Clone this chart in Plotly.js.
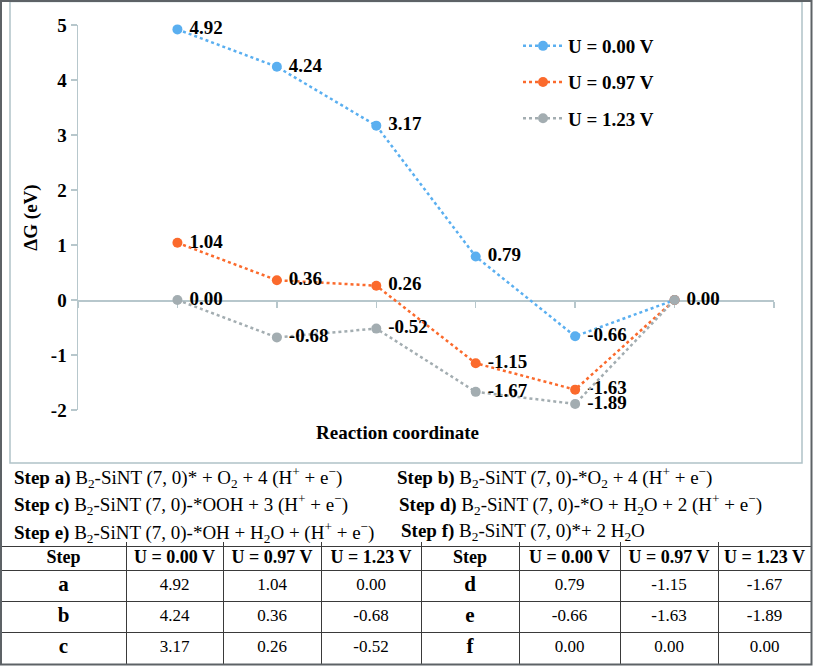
<!DOCTYPE html>
<html>
<head>
<meta charset="utf-8">
<script src="https://cdn.plot.ly/plotly-3.0.1.min.js"></script>
<style>html,body{margin:0;padding:0;background:#fff;}#chart{width:813px;height:666px;}</style>
</head>
<body>
<div id="chart"></div>
<script>
// ---- data ----
const steps = ['a', 'b', 'c', 'd', 'e', 'f'];
const u000 = [4.92, 4.24, 3.17, 0.79, -0.66, 0.00];
const u097 = [1.04, 0.36, 0.26, -1.15, -1.63, 0.00];
const u123 = [0.00, -0.68, -0.52, -1.67, -1.89, 0.00];
const seriesNames = ['U = 0.00 V', 'U = 0.97 V', 'U = 1.23 V'];
const yTickVals = [-2, -1, 0, 1, 2, 3, 4, 5];
const yTickText = ['-2', '-1', '0', '1', '2', '3', '4', '5'];
const xTickVals = [0, 1, 2, 3, 4, 5, 6, 7];
const stepLabels = ['a', 'b', 'c', 'd', 'e', 'f'];
const stepEquations = [
  'B<sub>2</sub>-SiNT (7, 0)* + O<sub>2</sub> + 4 (H<sup>+</sup> + e<sup>\u2212</sup>)',
  'B<sub>2</sub>-SiNT (7, 0)-*O<sub>2</sub> + 4 (H<sup>+</sup> + e<sup>\u2212</sup>)',
  'B<sub>2</sub>-SiNT (7, 0)-*OOH + 3 (H<sup>+</sup> + e<sup>\u2212</sup>)',
  'B<sub>2</sub>-SiNT (7, 0)-*O + H<sub>2</sub>O + 2 (H<sup>+</sup> + e<sup>\u2212</sup>)',
  'B<sub>2</sub>-SiNT (7, 0)-*OH + H<sub>2</sub>O + (H<sup>+</sup> + e<sup>\u2212</sup>)',
  'B<sub>2</sub>-SiNT (7, 0)*+ 2 H<sub>2</sub>O'
];
const tableHeader = ['Step', 'U = 0.00 V', 'U = 0.97 V', 'U = 1.23 V'];
const tableColumnWidths = [125, 97, 98, 100, 98, 101, 98, 93];
const tableRowHeights = [24, 31, 31, 32];

// ---- layout helpers ----
const W = 813, H = 666;
const px = v => v / W;
const py = v => 1 - v / H;
const SERIF = 'Liberation Serif, Times New Roman, serif';
const colors = ['#5aaff0', '#fb6a2c', '#a3adb1'];
const axisColor = '#b7c7cc';

const xs = steps.map((_, i) => i + 1);
const fmt = v => v.toFixed(2);

const series = [u000, u097, u123];
// a label is left out where a later-drawn series has the same value at that step
const labelsFor = k => series[k].map((v, i) =>
  series.slice(k + 1).some(s => s[i] === v) ? '' : '\u00a0' + fmt(v));

const traces = series.map((ys, k) => ({
  type: 'scatter',
  mode: 'lines+markers+text',
  x: xs, y: ys,
  name: seriesNames[k],
  legendgroup: 'g' + k,
  text: labelsFor(k),
  textposition: 'middle right',
  textfont: {family: SERIF, size: 19, color: '#000', weight: 'bold'},
  cliponaxis: false,
  line: {color: colors[k], width: 2.5, dash: 'dot'},
  marker: {color: colors[k], size: 10},
  xaxis: 'x', yaxis: 'y',
  hoverinfo: 'skip'
}));

const yRange = [-2, 5];
const yDomain = [py(410), py(25)];
const xAxisPos = yDomain[0] + (0 - yRange[0]) / (yRange[1] - yRange[0]) * (yDomain[1] - yDomain[0]);

// ---- table drawn on its own axes (x2/y2 in cell units) ----
const cum = a => a.reduce((acc, v) => (acc.push(acc[acc.length - 1] + v), acc), [0]);
const colEdges = cum(tableColumnWidths);
const rowEdges = cum(tableRowHeights);
const colMid = tableColumnWidths.map((w, i) => colEdges[i] + w / 2);
const rowMid = tableRowHeights.map((h, i) => rowEdges[i] + h / 2);
const half = 3;
const tableBlocks = [0, 1].map(b => ({
  steps: stepLabels.slice(b * half, b * half + half),
  cols: series.map(s => s.slice(b * half, b * half + half).map(fmt))
}));
const hdrX = [], hdrY = [], hdrT = [];
const stX = [], stY = [], stT = [];
const vX = [], vY = [], vT = [];
tableBlocks.forEach((blk, b) => {
  tableHeader.forEach((h, c) => { hdrX.push(colMid[b * 4 + c]); hdrY.push(rowMid[0]); hdrT.push(h); });
  blk.steps.forEach((s, r) => { stX.push(colMid[b * 4]); stY.push(rowMid[r + 1]); stT.push(s); });
  blk.cols.forEach((col, c) => col.forEach((v, r) => {
    vX.push(colMid[b * 4 + c + 1]); vY.push(rowMid[r + 1]); vT.push(v);
  }));
});
const tableText = (x, y, t, size, weight) => ({
  type: 'scatter', mode: 'text', x: x, y: y, text: t,
  textposition: 'middle center',
  textfont: {family: SERIF, size: size, color: '#000', weight: weight},
  xaxis: 'x2', yaxis: 'y2', showlegend: false, hoverinfo: 'skip', cliponaxis: false
});
traces.push(tableText(hdrX, hdrY, hdrT, 18, 'bold'));
traces.push(tableText(stX, stY, stT, 21, 'bold'));
traces.push(tableText(vX, vY, vT, 17, 'normal'));

const stepX = [12, 395, 12, 397, 12, 399];
const stepY = [477, 477, 505, 505, 532, 532];
const annotations = stepLabels.map((s, i) => ({
  xref: 'paper', yref: 'paper',
  x: px(stepX[i]), y: py(stepY[i]),
  xanchor: 'left', yanchor: 'middle',
  showarrow: false,
  text: '<b>Step ' + s + ')</b> ' + stepEquations[i],
  font: {family: SERIF, size: 19, color: '#000'}
}));
annotations.push({
  xref: 'paper', yref: 'paper', x: px(397), y: py(433),
  xanchor: 'center', yanchor: 'middle', showarrow: false,
  text: 'Reaction coordinate',
  font: {family: SERIF, size: 19, color: '#000', weight: 'bold'}
});

const tablePad = 4;
const layout = {
  width: W, height: H,
  margin: {l: 0, r: 0, t: 0, b: 0},
  paper_bgcolor: '#fff', plot_bgcolor: 'rgba(0,0,0,0)',
  font: {family: SERIF},
  showlegend: true,
  legend: {
    x: px(518), y: py(27), xanchor: 'left', yanchor: 'top',
    traceorder: 'grouped', tracegroupgap: 8.5,
    font: {family: SERIF, size: 19, color: '#000', weight: 'bold'},
    bgcolor: 'rgba(0,0,0,0)', itemwidth: 40
  },
  xaxis: {
    domain: [px(78), px(774)], range: [0, 7],
    anchor: 'free', position: xAxisPos, layer: 'below traces',
    tickvals: xTickVals, showticklabels: false,
    ticks: 'outside', ticklen: 6, tickcolor: axisColor, tickwidth: 1.5,
    showline: true, linecolor: axisColor, linewidth: 1.5,
    showgrid: false, zeroline: false, fixedrange: true
  },
  yaxis: {
    domain: yDomain, range: yRange, layer: 'below traces',
    tickvals: yTickVals, ticktext: yTickText,
    ticks: 'outside', ticklen: 6, tickcolor: axisColor, tickwidth: 1.5,
    tickfont: {family: SERIF, size: 19, color: '#000', weight: 'bold'},
    showline: true, linecolor: axisColor, linewidth: 1.5,
    showgrid: false, zeroline: false, fixedrange: true,
    title: {text: '\u0394G (eV)', font: {family: SERIF, size: 19, color: '#000', weight: 'bold'}, standoff: 8}
  },
  xaxis2: {
    domain: [px(1), px(811)], range: [0, colEdges[colEdges.length - 1]], anchor: 'y2',
    tickvals: colEdges.slice(1, -1), showticklabels: false, ticks: '',
    showgrid: true, gridcolor: '#3a3a3a', gridwidth: 1,
    showline: false, zeroline: false, fixedrange: true
  },
  yaxis2: {
    domain: [py(664), py(546 - tablePad)], range: [rowEdges[rowEdges.length - 1], -tablePad], anchor: 'x2',
    tickvals: rowEdges.slice(0, -1), showticklabels: false, ticks: '',
    showgrid: true, gridcolor: '#3a3a3a', gridwidth: 1,
    showline: false, zeroline: false, fixedrange: true
  },
  shapes: [
    {type: 'rect', xref: 'paper', yref: 'paper', x0: px(10), x1: px(802), y0: py(463), y1: py(1.5),
     line: {color: '#b0c2c8', width: 1.5}, layer: 'below'},
    {type: 'rect', xref: 'paper', yref: 'paper', x0: px(1), x1: px(811.5), y0: py(664.5), y1: py(1),
     line: {color: '#5d6266', width: 2}, layer: 'above'}
  ],
  annotations: annotations
};

Plotly.newPlot('chart', traces, layout, {displayModeBar: false, staticPlot: true});
</script>
</body>
</html>
